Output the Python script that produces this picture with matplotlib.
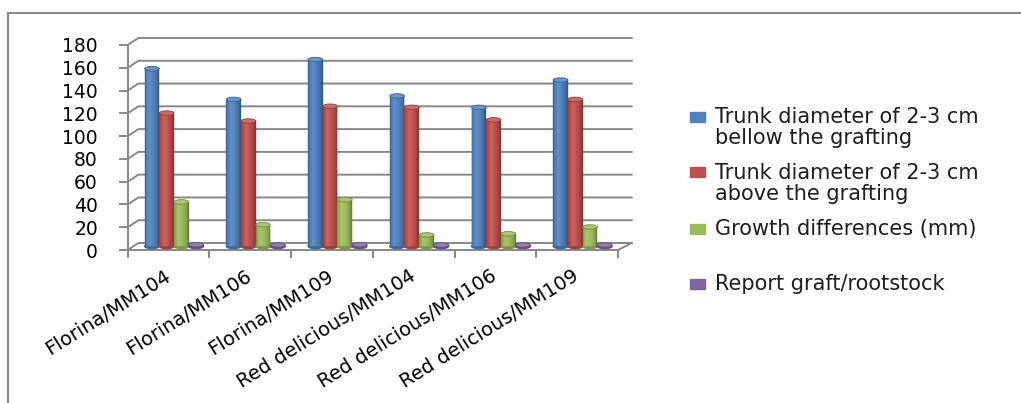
import numpy as np
import matplotlib
matplotlib.use('Agg')
import matplotlib.pyplot as plt
from matplotlib.patches import Ellipse, Rectangle
from matplotlib.lines import Line2D
from matplotlib.colors import to_rgb

categories = ['Florina/MM104', 'Florina/MM106', 'Florina/MM109',
              'Red delicious/MM104', 'Red delicious/MM106', 'Red delicious/MM109']
below_graft = [156, 129, 164, 132, 122, 146]
above_graft = [117, 110, 123, 122, 111, 129]
growth_diff = [39, 19, 41, 10, 11, 17]
graft_ratio = [1.33, 1.17, 1.33, 1.08, 1.10, 1.13]

series = [below_graft, above_graft, growth_diff, graft_ratio]
labels = ['Trunk diameter of 2-3 cm\nbellow the grafting',
          'Trunk diameter of 2-3 cm\nabove the grafting',
          'Growth differences (mm)',
          'Report graft/rootstock']
colors = ['#4F81BD', '#C0504D', '#9BBB59', '#8064A2']
yticks = np.arange(0, 181, 20)

plt.rcParams['font.family'] = ['DejaVu Sans']
W, H = 1021, 403
fig = plt.figure(figsize=(W / 100, H / 100), dpi=100)
fig.patch.set_facecolor('white')

# front plane of the 3d box, pixel coords from the top-left corner
x0, x1, y0, y1 = 127.7, 618.0, 250.0, 45.0
ax = fig.add_axes([x0 / W, 1 - y0 / H, (x1 - x0) / W, (y0 - y1) / H])
ax.set_xlim(0, 6)
ax.set_ylim(0, 180)
ax.patch.set_visible(False)
px_x = (x1 - x0) / 6
px_y = (y0 - y1) / 180


def dx(p):
    return p / px_x


def dy(p):
    return p / px_y


grid = '#878787'
lw = 1.4

# back wall gridlines with the little side-wall diagonals
back_l, back_r, back_up = dx(10.7), 6 + dx(13.7), dy(7)
for v in yticks:
    ax.plot([0, back_l, back_r], [v, v + back_up, v + back_up],
            color=grid, lw=lw, clip_on=False, zorder=1)
ax.plot([6, back_r], [0, back_up], color=grid, lw=lw, clip_on=False, zorder=1)

for s in ['top', 'right']:
    ax.spines[s].set_visible(False)
for s in ['left', 'bottom']:
    ax.spines[s].set_color(grid)
    ax.spines[s].set_linewidth(lw)
    ax.spines[s].set_zorder(1)

ax.set_yticks(yticks)
ax.tick_params(axis='y', length=6.8, width=lw, color=grid, pad=14.6,
               labelsize=13.5)
ax.set_xticks(range(7))
ax.set_xticklabels([])
ax.set_xticks(np.arange(6) + 0.5, categories, minor=True)
ax.tick_params(axis='x', which='major', length=5.8, width=lw, color=grid)
ax.tick_params(axis='x', which='minor', length=0, pad=17.5, labelsize=14)
for lbl in ax.get_xticklabels(minor=True):
    lbl.set(rotation=32, ha='right', va='center', rotation_mode='anchor')


def shade(c, m):
    r = np.array(to_rgb(c))
    if m >= 1:
        r = r + (1 - r) * (m - 1) * 2
    else:
        r = r * m
    return tuple(np.clip(r, 0, 1))


# cylinders: vertical strips give the rounded shading
bar_w = 0.18
nstrip = 16
prof_t = [0, 0.08, 0.3, 0.55, 0.8, 0.93, 1]
prof_m = [0.70, 0.92, 1.06, 1.02, 0.90, 0.76, 0.62]
bar_dx, bar_dy = dx(5.5), dy(3.7)
cap_h = dy(4.5)
sw = bar_w / nstrip

for k, (vals, c) in enumerate(zip(series, colors)):
    centers = np.arange(6) + 0.5 + (k - 1.5) * bar_w + bar_dx
    for xc in centers:
        ax.add_patch(Ellipse((xc, bar_dy), bar_w, cap_h, color=shade(c, 0.8),
                             zorder=2, clip_on=False))
    for j in range(nstrip):
        t = (j + 0.5) / nstrip
        col = shade(c, np.interp(t, prof_t, prof_m))
        ax.bar(centers - bar_w / 2 + (j + 0.5) * sw, vals, width=sw,
               bottom=bar_dy, color=col, edgecolor=col, linewidth=0.3,
               zorder=3, clip_on=False)
    for xc, v in zip(centers, vals):
        ax.add_patch(Ellipse((xc, bar_dy + v), bar_w, cap_h,
                             facecolor=shade(c, 1.08), edgecolor=shade(c, 0.75),
                             lw=0.6, zorder=4, clip_on=False))

# legend (baseline of a multi-line label is its last line)
text_col = '#1e1e1e'
first_lines = [123, 178, 235, 290]
last_lines = [144, 200, 235, 290]
for lab, c, b1, b2 in zip(labels, colors, first_lines, last_lines):
    fig.patches.append(Rectangle((690 / W, 1 - (b1 - 1) / H), 15 / W, 10 / H,
                                 transform=fig.transFigure, color=c))
    fig.text(715 / W, 1 - b2 / H, lab, fontsize=15, color=text_col,
             va='baseline', ha='left', linespacing=1.05)

# chart area border
fig.lines.append(Line2D([8 / W, 1], [1 - 13 / H, 1 - 13 / H],
                        transform=fig.transFigure, color='#8a8a8a', lw=1.5))
fig.lines.append(Line2D([8 / W, 8 / W], [1 - 13 / H, 0],
                        transform=fig.transFigure, color='#8a8a8a', lw=1.5))

fig.savefig('out.png', dpi=100)
